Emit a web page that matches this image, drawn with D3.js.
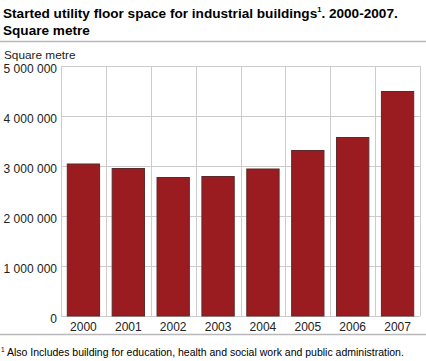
<!DOCTYPE html>
<html><head><meta charset="utf-8">
<script src="https://cdn.jsdelivr.net/npm/d3@7"></script>
<style>body{margin:0;background:#fff;font-family:Arial,"Liberation Sans",sans-serif;}</style>
</head><body><svg id="c" width="426" height="361"></svg>
<script>
const years = ["2000","2001","2002","2003","2004","2005","2006","2007"];
const values = [3040000,2950000,2770000,2790000,2940000,3310000,3570000,4490000];
const yTicks = [0,1000000,2000000,3000000,4000000,5000000];

const svg = d3.select("#c");
const m = {left:61, right:420, top:66, bottom:316};
const x = d3.scaleBand().domain(years).range([m.left, m.right]).paddingInner(0.28).paddingOuter(0.14);
const y = d3.scaleLinear().domain([0,5000000]).range([m.bottom, m.top]);
const fmt = v => d3.format(",")(v).replace(/,/g, " ");

// title
const t = svg.append("text").attr("x",3).attr("y",18).attr("font-size","13.6px").attr("font-weight","bold").attr("fill","#000");
t.append("tspan").text("Started utility floor space for industrial buildings");
t.append("tspan").text("1").attr("font-size","7.5px").attr("dy","-6");
t.append("tspan").text(". 2000-2007.").attr("dy","6");
svg.append("text").attr("x",3).attr("y",35).attr("font-size","13.6px").attr("font-weight","bold").text("Square metre");
svg.append("line").attr("x1",0).attr("x2",426).attr("y1",41.5).attr("y2",41.5).attr("stroke","#b8b8b8").attr("stroke-width",1.5);

svg.append("text").attr("x",4).attr("y",58.5).attr("font-size","11.8px").attr("fill","#222").text("Square metre");

// grid horizontal
svg.append("g").selectAll("line").data(yTicks).join("line")
  .attr("x1",m.left).attr("x2",m.right).attr("y1",d=>y(d)+0.5).attr("y2",d=>y(d)+0.5)
  .attr("stroke","#cccccc");
// vertical grid at band boundaries
const bounds = d3.range(years.length+1).map(i => m.left + i*(m.right-m.left)/years.length);
svg.append("g").selectAll("line").data(bounds).join("line")
  .attr("x1",d=>Math.round(d)+0.5).attr("x2",d=>Math.round(d)+0.5).attr("y1",m.top).attr("y2",m.bottom)
  .attr("stroke","#cccccc");

// y axis labels
const yAxis = d3.axisLeft(y).tickValues(yTicks).tickFormat(fmt).tickSize(0).tickPadding(4);
const ga = svg.append("g").attr("transform",`translate(${m.left},2.5)`).call(yAxis);
ga.select(".domain").remove();
ga.selectAll("text").attr("font-size","12px").attr("fill","#222").attr("font-family","Arial,'Liberation Sans',sans-serif");

// bars
svg.append("g").selectAll("rect").data(values).join("rect")
  .attr("x",(d,i)=>x(years[i])).attr("width",x.bandwidth())
  .attr("y",d=>y(d)).attr("height",d=>y(0)-y(d))
  .attr("fill","#9a1c20").attr("stroke","#5b2a2a").attr("stroke-width",1);

// x axis labels
const xAxis = d3.axisBottom(x).tickSize(0).tickPadding(6);
const gx = svg.append("g").attr("transform",`translate(0,${m.bottom})`).call(xAxis);
gx.select(".domain").remove();
gx.selectAll("text").attr("font-size","12px").attr("fill","#222").attr("font-family","Arial,'Liberation Sans',sans-serif");

// footer
svg.append("line").attr("x1",0).attr("x2",426).attr("y1",334.5).attr("y2",334.5).attr("stroke","#b8b8b8").attr("stroke-width",1.5);
const f = svg.append("text").attr("x",1).attr("y",356).attr("font-size","10.5px").attr("fill","#000");
f.append("tspan").text("1").attr("font-size","6.5px").attr("dy","-4");
f.append("tspan").text(" Also Includes building for education, health and social work and public administration.").attr("dy","4");
</script></body></html>
